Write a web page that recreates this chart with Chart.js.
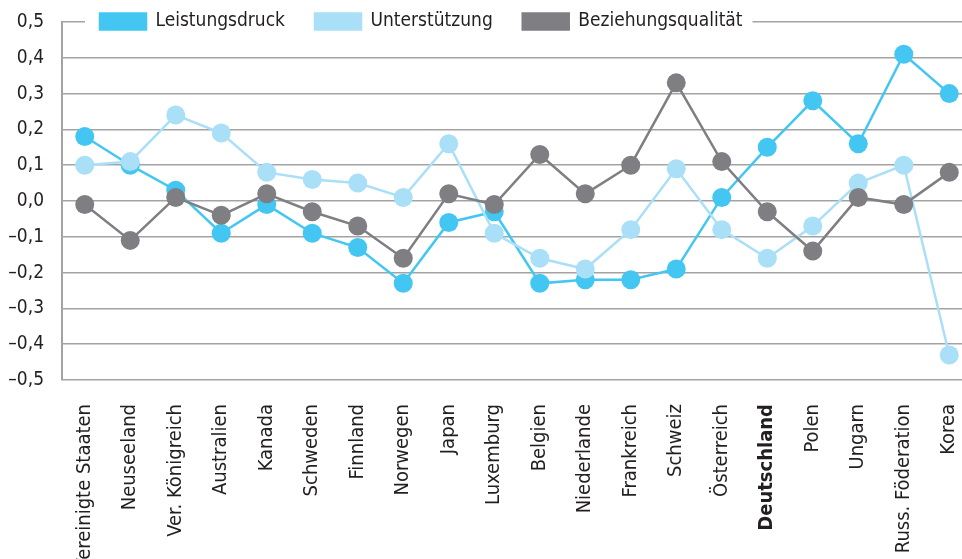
<!DOCTYPE html>
<html lang="de">
<head>
<meta charset="utf-8">
<script src="https://cdn.jsdelivr.net/npm/chart.js@4"></script>
<style>
  html, body { margin: 0; padding: 0; background: #fff; }
  canvas { display: block; }
</style>
</head>
<body>
<canvas id="chart" width="962" height="559"></canvas>
<script>
const countries = [
    'Vereinigte Staaten', 'Neuseeland', 'Ver. Königreich', 'Australien', 'Kanada',
    'Schweden', 'Finnland', 'Norwegen', 'Japan', 'Luxemburg',
    'Belgien', 'Niederlande', 'Frankreich', 'Schweiz', 'Österreich',
    'Deutschland', 'Polen', 'Ungarn', 'Russ. Föderation', 'Korea'
];
const leistungsdruck = [0.18, 0.10, 0.03, -0.09, -0.01, -0.09, -0.13, -0.23, -0.06, -0.03,
    -0.23, -0.22, -0.22, -0.19, 0.01, 0.15, 0.28, 0.16, 0.41, 0.30];
const unterstuetzung = [0.10, 0.11, 0.24, 0.19, 0.08, 0.06, 0.05, 0.01, 0.16, -0.09,
    -0.16, -0.19, -0.08, 0.09, -0.08, -0.16, -0.07, 0.05, 0.10, -0.43];
const beziehungsqualitaet = [-0.01, -0.11, 0.01, -0.04, 0.02, -0.03, -0.07, -0.16, 0.02, -0.01,
    0.13, 0.02, 0.10, 0.33, 0.11, -0.03, -0.14, 0.01, -0.01, 0.08];
const highlighted = 'Deutschland';

const FONT = "'DejaVu Sans Condensed', 'Liberation Sans Narrow', sans-serif";
const TEXT = '#231f20';
const GRID = '#a3a3a3';

function points(values) {
    return values.map((v, i) => ({ x: i, y: v }));
}

function series(label, values, color, order) {
    return {
        label,
        data: points(values),
        borderColor: color,
        backgroundColor: color,
        pointBackgroundColor: color,
        pointBorderWidth: 0,
        pointRadius: 9.5,
        pointHoverRadius: 9.5,
        borderWidth: 2.5,
        tension: 0,
        order,
    };
}

// legend sits on the top gridline, with a white backdrop behind it
const legendBackdrop = {
    id: 'legendBackdrop',
    afterLayout(chart) {
        const lg = chart.legend;
        const pad = lg.options.labels.padding;
        lg.left = chart.chartArea.left + 38 - pad;
        lg.top = 12 - pad;
        lg.bottom = 40;
    },
    beforeDatasetsDraw(chart) {
        const lg = chart.legend;
        const boxes = lg.legendHitBoxes;
        if (!boxes.length) return;
        const first = boxes[0];
        const last = boxes[boxes.length - 1];
        const x0 = first.left - 15;
        const x1 = last.left + last.width + 10;
        const ctx = chart.ctx;
        ctx.save();
        ctx.fillStyle = '#fff';
        ctx.fillRect(x0, first.top - 4, x1 - x0, first.height + 8);
        ctx.restore();
        lg.draw();
    }
};

new Chart(document.getElementById('chart'), {
    type: 'line',
    data: {
        datasets: [
            series('Leistungsdruck', leistungsdruck, '#43c7f2', 3),
            series('Unterstützung', unterstuetzung, '#aadff8', 2),
            series('Beziehungsqualität', beziehungsqualitaet, '#7f7f83', 1),
        ],
    },
    options: {
        responsive: false,
        animation: false,
        layout: { autoPadding: false, padding: 0 },
        plugins: {
            tooltip: { enabled: false },
            legend: {
                position: 'top',
                align: 'start',
                maxHeight: 22,
                labels: {
                    boxWidth: 46,
                    boxHeight: 16,
                    padding: 30,
                    color: TEXT,
                    font: { family: FONT, size: 19 },
                    sort: (a, b) => a.datasetIndex - b.datasetIndex,
                },
            },
        },
        scales: {
            x: {
                type: 'linear',
                min: -0.5,
                max: 19.28,
                grid: { display: false },
                border: { display: false },
                afterBuildTicks: axis => {
                    axis.ticks = countries.map((c, i) => ({ value: i }));
                },
                afterFit: axis => {
                    axis.height = 179;
                    axis.paddingLeft = 0;
                    axis.paddingRight = 0;
                },
                ticks: {
                    autoSkip: false,
                    minRotation: 90,
                    maxRotation: 90,
                    padding: 16,
                    color: TEXT,
                    font: ctx => ({
                        family: FONT,
                        size: 20,
                        weight: countries[ctx.tick && ctx.tick.value] === highlighted ? 'bold' : 'normal',
                    }),
                    callback: v => countries[v],
                },
            },
            y: {
                min: -0.5,
                max: 0.5,
                afterFit: axis => {
                    axis.width = 62;
                    axis.paddingTop = 0;
                    axis.paddingBottom = 0;
                },
                grid: { color: GRID, lineWidth: 1.5, drawTicks: false },
                border: { color: GRID, width: 2 },
                ticks: {
                    stepSize: 0.1,
                    padding: 18,
                    color: TEXT,
                    font: { family: FONT, size: 19 },
                    callback: v => v.toFixed(1).replace('.', ',').replace('-', '–'),
                },
            },
        },
    },
    plugins: [legendBackdrop],
});
</script>
</body>
</html>
